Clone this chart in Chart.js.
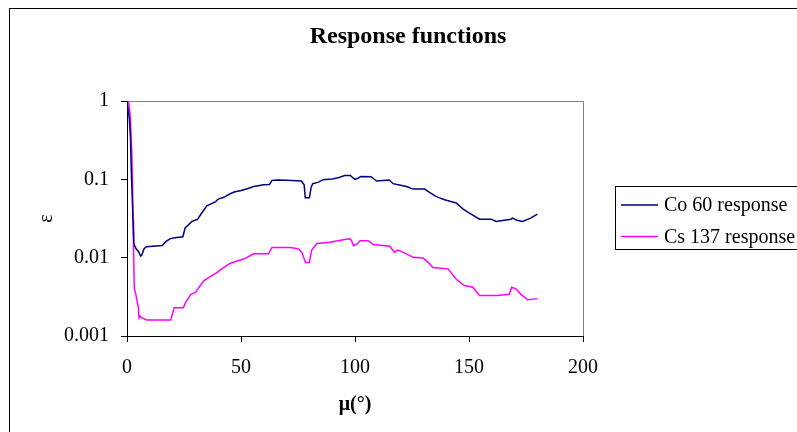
<!DOCTYPE html>
<html>
<head>
<meta charset="utf-8">
<script src="https://cdn.jsdelivr.net/npm/chart.js@4.4.0/dist/chart.umd.min.js"></script>
<style>
  html, body { margin: 0; padding: 0; background: #fff; }
  #wrap { width: 797px; height: 432px; }
</style>
</head>
<body>
<div id="wrap"><canvas id="responseChart" width="797" height="432"></canvas></div>
<script>
// angle (deg) and response values
const coAngles = [0, 0.3, 1, 1.5, 2, 2.2, 3, 4, 5, 6, 6.5, 7.5, 8.5, 15.5, 17, 19, 21, 24.5, 25.5, 28.5, 31, 33, 35, 38.9, 40, 42.5, 45, 47, 50, 52.7, 55.6, 60, 62.5, 63.6, 66, 70, 76.5, 77.7, 78.2, 80, 80.8, 81.5, 84, 86, 90, 92.7, 95.5, 98, 99, 100, 101.5, 102.5, 107, 109.5, 115, 116.7, 120, 122.6, 125.5, 130.6, 132, 134.9, 137, 139.3, 142, 144.4, 147.3, 150.2, 154.6, 159.7, 161.9, 168.4, 169.1, 171, 173.5, 177, 180];
const coResponse = [1, 1, 0.6, 0.35, 0.1, 0.07, 0.015, 0.013, 0.012, 0.0105, 0.0108, 0.013, 0.0138, 0.0143, 0.016, 0.0175, 0.018, 0.0185, 0.024, 0.029, 0.031, 0.038, 0.046, 0.052, 0.056, 0.059, 0.065, 0.069, 0.072, 0.076, 0.081, 0.085, 0.086, 0.097, 0.098, 0.097, 0.095, 0.085, 0.058, 0.058, 0.08, 0.088, 0.092, 0.099, 0.101, 0.105, 0.112, 0.112, 0.105, 0.1, 0.104, 0.109, 0.108, 0.095, 0.098, 0.088, 0.084, 0.081, 0.075, 0.075, 0.07, 0.062, 0.058, 0.055, 0.052, 0.05, 0.042, 0.037, 0.031, 0.031, 0.029, 0.031, 0.032, 0.030, 0.029, 0.032, 0.036];

const csAngles = [0, 0.8, 1.5, 2, 2.4, 2.7, 2.9, 3.2, 3.8, 4.4, 5, 5.3, 5.8, 6.5, 8.7, 19.2, 20.7, 24.7, 25.8, 28, 30, 31.6, 33.8, 36, 38.9, 42.5, 45.4, 48, 51.2, 55.6, 62.1, 63.6, 67.2, 71.6, 75, 76.7, 78.3, 80, 81, 83.3, 89, 94.9, 97.8, 98.5, 99.3, 101, 102.2, 105.8, 108, 115.3, 116.5, 117.5, 118.5, 119.5, 122.6, 125.5, 129.9, 132.1, 134.2, 140.8, 144.4, 148, 151.7, 154.6, 162.6, 167.7, 168.7, 170.6, 172.8, 175.7, 180];
const csResponse = [1, 0.95, 0.6, 0.26, 0.1, 0.03, 0.012, 0.004, 0.0035, 0.0028, 0.0023, 0.0017, 0.0018, 0.0017, 0.0016, 0.0016, 0.0023, 0.0023, 0.0027, 0.0034, 0.0036, 0.0042, 0.0051, 0.0056, 0.0063, 0.0075, 0.0085, 0.009, 0.0096, 0.0112, 0.0112, 0.0135, 0.0135, 0.0135, 0.013, 0.0117, 0.0087, 0.0087, 0.0125, 0.0152, 0.0157, 0.0169, 0.0174, 0.0165, 0.0142, 0.015, 0.0165, 0.0165, 0.0147, 0.014, 0.0125, 0.0117, 0.0125, 0.0123, 0.0112, 0.0101, 0.0099, 0.0087, 0.0075, 0.0072, 0.0053, 0.0044, 0.0042, 0.0033, 0.0033, 0.0034, 0.0042, 0.0040, 0.0034, 0.0029, 0.003];

const yTicks = [0.001, 0.01, 0.1, 1];
const seriesNames = ['Co 60 response', 'Cs 137 response'];

const serif = "'Liberation Serif', 'Times New Roman', serif";

function toPoints(xs, ys) {
  return xs.map(function(x, i) { return { x: x, y: ys[i] }; });
}

// frame, plot border, title and legend box like the excel chart
const decorations = {
  id: 'decorations',
  beforeDraw: function(chart) {
    const ctx = chart.ctx;
    const a = chart.chartArea;
    ctx.save();
    ctx.strokeStyle = '#000';
    ctx.lineWidth = 1;
    ctx.strokeRect(9.5, 8.5, 900, 600);
    ctx.strokeStyle = '#808080';
    ctx.beginPath();
    ctx.moveTo(a.left, a.top + 0.5);
    ctx.lineTo(a.right + 0.5, a.top + 0.5);
    ctx.lineTo(a.right + 0.5, a.bottom);
    ctx.stroke();
    ctx.restore();
  },
  afterDraw: function(chart) {
    const ctx = chart.ctx;
    ctx.save();
    ctx.fillStyle = '#000';
    ctx.font = 'bold 24px ' + serif;
    ctx.textAlign = 'center';
    ctx.textBaseline = 'alphabetic';
    ctx.fillText('Response functions', 408, 43);

    // legend
    ctx.strokeStyle = '#000';
    ctx.lineWidth = 1;
    ctx.strokeRect(615.5, 186.5, 300, 63);
    ctx.font = '20px ' + serif;
    ctx.textAlign = 'left';
    ctx.textBaseline = 'middle';
    const rows = [205, 236.5];
    chart.data.datasets.forEach(function(ds, i) {
      ctx.strokeStyle = ds.borderColor;
      ctx.lineWidth = 1.5;
      ctx.beginPath();
      ctx.moveTo(621, rows[i]);
      ctx.lineTo(658, rows[i]);
      ctx.stroke();
      ctx.fillStyle = '#000';
      ctx.fillText(ds.label, 664, rows[i] + 1);
    });
    ctx.restore();
  }
};

const ctx = document.getElementById('responseChart').getContext('2d');

new Chart(ctx, {
  type: 'line',
  data: {
    datasets: [{
      label: seriesNames[0],
      data: toPoints(coAngles, coResponse),
      borderColor: '#000080',
      borderWidth: 1.5,
      pointRadius: 0,
      tension: 0
    }, {
      label: seriesNames[1],
      data: toPoints(csAngles, csResponse),
      borderColor: '#FF00FF',
      borderWidth: 1.5,
      pointRadius: 0,
      tension: 0
    }]
  },
  options: {
    responsive: false,
    animation: false,
    layout: { padding: { top: 101, right: 214, left: 0, bottom: 0 } },
    plugins: {
      legend: { display: false },
      title: { display: false },
      tooltip: { enabled: false }
    },
    scales: {
      x: {
        type: 'linear',
        min: 0,
        max: 200,
        afterFit: function(scale) { scale.height = 96; },
        ticks: {
          stepSize: 50,
          color: '#000',
          padding: 14,
          font: { family: serif, size: 20 },
          maxRotation: 0
        },
        grid: {
          drawOnChartArea: false,
          drawTicks: true,
          tickLength: 6,
          color: '#000'
        },
        border: { color: '#000', width: 1 },
        title: {
          display: true,
          text: 'μ(°)',
          color: '#000',
          font: { family: serif, size: 20, weight: 'bold' },
          padding: { top: 0, bottom: 15 }
        }
      },
      y: {
        type: 'logarithmic',
        min: 0.001,
        max: 1,
        afterFit: function(scale) { scale.width = 127; },
        afterBuildTicks: function(scale) {
          scale.ticks = yTicks.map(function(v) { return { value: v }; });
        },
        ticks: {
          color: '#000',
          padding: 12,
          font: { family: serif, size: 20 },
          callback: function(value) { return String(value); }
        },
        grid: {
          drawOnChartArea: false,
          drawTicks: true,
          tickLength: 6,
          color: '#000'
        },
        border: { color: '#000', width: 1 },
        title: {
          display: true,
          text: 'ε',
          color: '#000',
          font: { family: serif, size: 20 },
          padding: { top: 35, bottom: 0 }
        }
      }
    }
  },
  plugins: [decorations]
});
</script>
</body>
</html>
